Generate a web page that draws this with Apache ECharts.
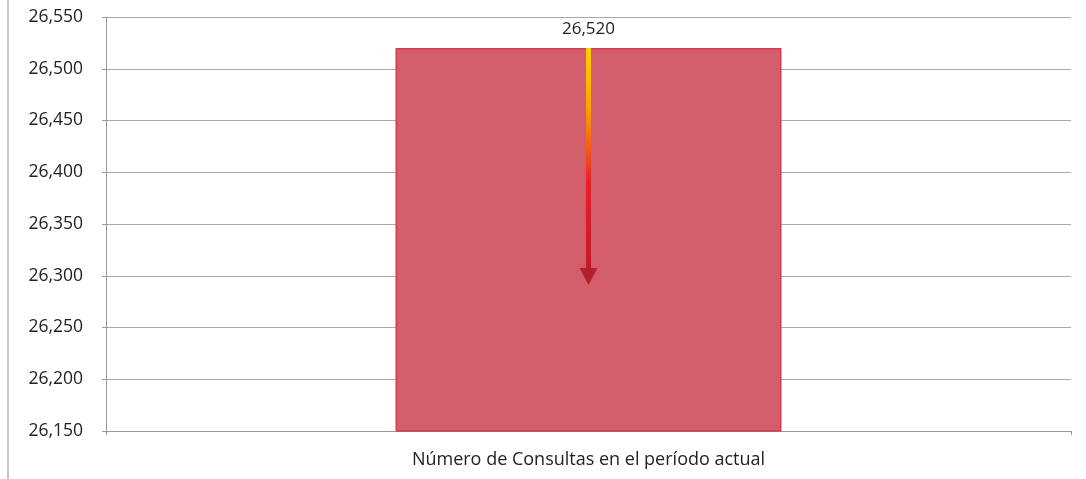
<!DOCTYPE html>
<html><head><meta charset="utf-8">
<script src="https://cdn.jsdelivr.net/npm/echarts@6/dist/echarts.min.js"></script>
<style>html,body{margin:0;padding:0;background:#fff}#c{width:1086px;height:479px}</style>
</head><body><div id="c"></div>
<script>
const categories = ["Número de Consultas en el período actual"];
const values = [26520];
const arrowFrom = 26520;
const arrowTo = 26305;
const yMin = 26150, yMax = 26550, yStep = 50;

const chart = echarts.init(document.getElementById('c'));
chart.setOption({
  animation: false,
  backgroundColor: '#fff',
  grid: {left: 106, right: 15, top: 17, bottom: 48},
  xAxis: {
    type: 'category', data: categories,
    axisLine: {lineStyle: {color: '#999', width: 1}},
    axisTick: {show: true, alignWithLabel: false, length: 4, lineStyle: {color: '#999'}},
    axisLabel: {color: '#222', fontSize: 18, fontFamily: 'Open Sans', margin: 20}
  },
  yAxis: {
    type: 'value', min: yMin, max: yMax, interval: yStep,
    axisLine: {show: true, lineStyle: {color: '#999'}},
    axisTick: {show: true, length: 4, inside: false, lineStyle: {color: '#999'}},
    axisLabel: {color: '#222', fontSize: 17.5, fontFamily: 'Open Sans', margin: 23,
      formatter: v => v.toLocaleString('en-US')},
    splitLine: {lineStyle: {color: '#a8a8a8', width: 1}}
  },
  series: [{
    type: 'bar', data: values, barWidth: '40%',
    itemStyle: {color: '#d35e6b', borderColor: '#d83a50', borderWidth: 1.5},
    label: {show: true, position: 'top', distance: 10, color: '#222', fontSize: 17,
      fontFamily: 'Open Sans', formatter: p => p.value.toLocaleString('en-US')},
    markLine: {
      silent: true, symbol: ['none', 'none'],
      label: {show: false},
      lineStyle: {
        width: 5, type: 'solid',
        color: new echarts.graphic.LinearGradient(0, 0, 0, 1, [
          {offset: 0, color: '#ffd400'}, {offset: 0.28, color: '#ffa000'},
          {offset: 0.6, color: '#e8202a'}, {offset: 1, color: '#c01828'}
        ])
      },
      data: [[{coord: [0, arrowFrom]}, {coord: [0, arrowTo]}]]
    },
    markPoint: {
      silent: true,
      symbol: 'triangle', symbolRotate: 180, symbolSize: [18, 17], symbolOffset: [0, 6],
      itemStyle: {color: '#b51f2c'},
      label: {show: false},
      data: [{coord: [0, arrowTo]}]
    }
  }],
  graphic: [{type: 'line', shape: {x1: 8, y1: 0, x2: 8, y2: 479}, style: {stroke: '#888', lineWidth: 1}}]
});
</script></body></html>
